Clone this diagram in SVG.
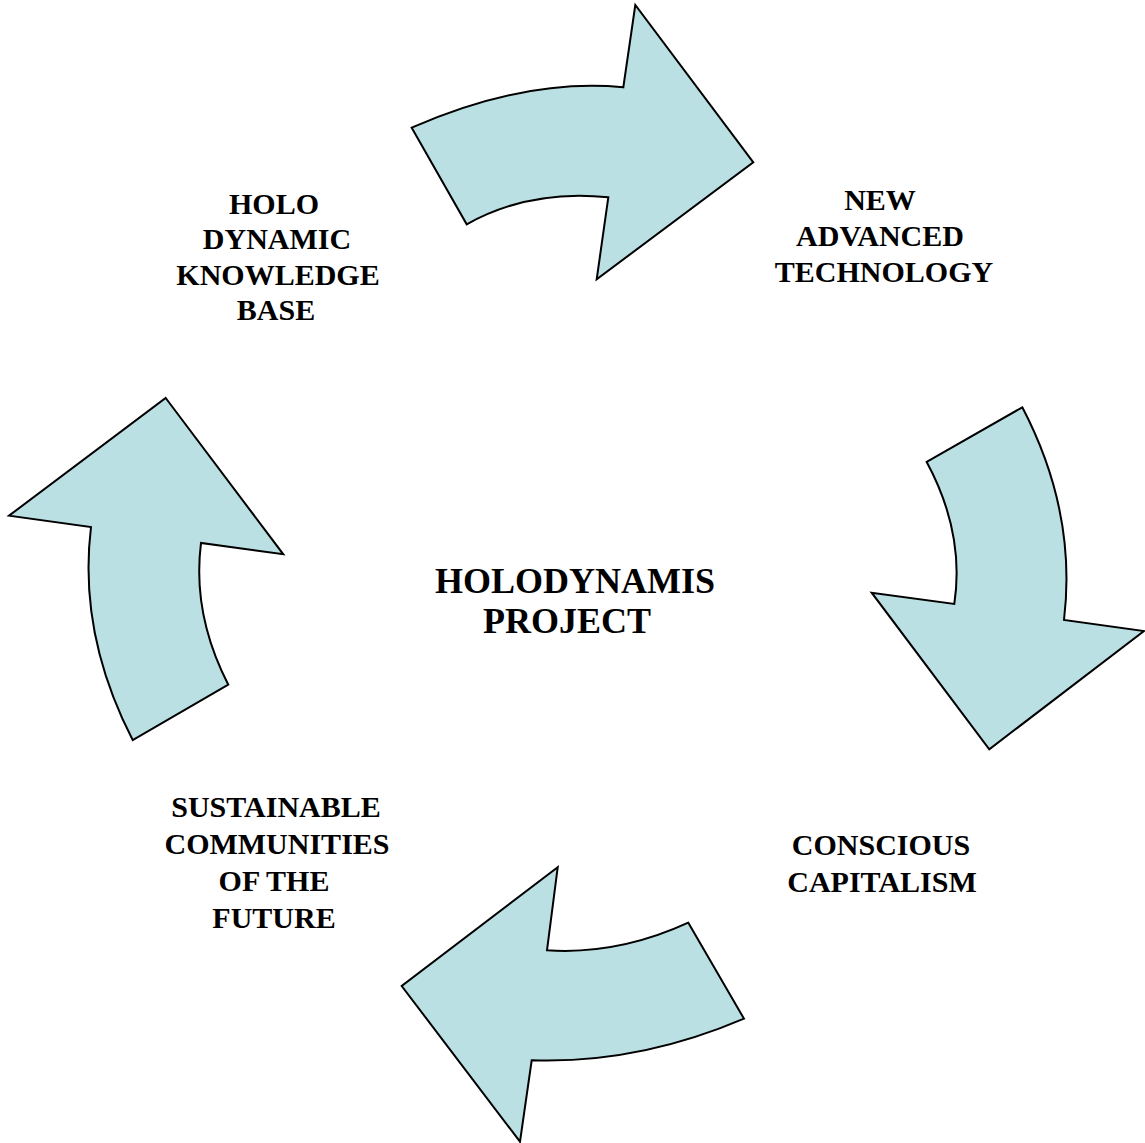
<svg xmlns="http://www.w3.org/2000/svg" width="1145" height="1143" viewBox="0 0 1145 1143">
<style>
.arrow{fill:#BAE0E3;stroke:#000;stroke-width:2;stroke-linejoin:miter}
.lbl{font-family:"Liberation Serif","Times New Roman",serif;font-weight:bold;font-size:30px;fill:#000;text-anchor:middle}
.title{font-size:36px}
</style>
<rect width="1145" height="1143" fill="#fff"/>
<g id="connectors">
<path id="arrow-top" class="arrow" d="M411.7,127.7 Q525,78 623.3,87.3 L635.3,5 L753.3,162.3 L596.7,279.3 L608.3,197.3 Q530,189 466.7,224.3 Z"/>
<path id="arrow-right" class="arrow" d="M1022.3,407.3 Q1077,512 1064,620 L1144,631 L989.3,749.3 L871.7,592.7 L954.3,604 Q965,533 926.7,462 Z"/>
<path id="arrow-bottom" class="arrow" d="M688.3,922.7 L744,1018.7 Q638,1064 531.7,1060.3 L520,1141.7 L401.7,986 L557.7,867.3 L547,950.3 Q618,955 688.3,922.7 Z"/>
<path id="arrow-left" class="arrow" d="M165.7,398 L283.3,554.3 L201,543 Q192,614 228.3,684.7 L132.7,740 Q78,633.5 91,527 L9,515.7 Z"/>
</g>
<g id="node-center">
<text class="lbl title" x="575" y="593">HOLODYNAMIS</text>
<text class="lbl title" x="567" y="633">PROJECT</text>
</g>
<g id="node-knowledge">
<text class="lbl" x="274" y="214">HOLO</text>
<text class="lbl" x="277" y="249">DYNAMIC</text>
<text class="lbl" x="278" y="285">KNOWLEDGE</text>
<text class="lbl" x="276" y="320">BASE</text>
</g>
<g id="node-technology">
<text class="lbl" x="880" y="210">NEW</text>
<text class="lbl" x="880" y="246">ADVANCED</text>
<text class="lbl" x="884" y="282">TECHNOLOGY</text>
</g>
<g id="node-capitalism">
<text class="lbl" x="881" y="855">CONSCIOUS</text>
<text class="lbl" x="882" y="892">CAPITALISM</text>
</g>
<g id="node-communities">
<text class="lbl" x="276" y="817">SUSTAINABLE</text>
<text class="lbl" x="277" y="854">COMMUNITIES</text>
<text class="lbl" x="274" y="891">OF THE</text>
<text class="lbl" x="274" y="928">FUTURE</text>
</g>
</svg>
